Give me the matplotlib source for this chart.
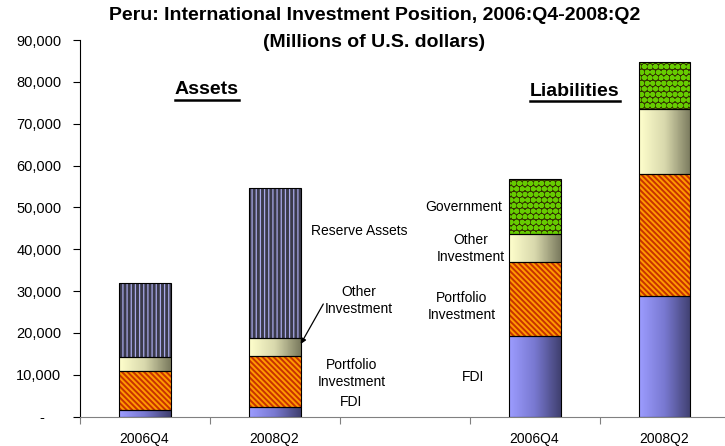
import matplotlib
matplotlib.use("Agg")
import matplotlib.pyplot as plt
import numpy as np
from matplotlib.colors import LinearSegmentedColormap
from matplotlib.ticker import FuncFormatter, FixedLocator
from matplotlib.lines import Line2D

plt.rcParams['font.family'] = ['Liberation Sans', 'DejaVu Sans']
plt.rcParams['font.size'] = 10

# data (millions of US$)
categories = ["2006Q4", "2008Q2"]
asset_pos = [0, 1]
liab_pos = [3, 4]

assets_fdi = [1500, 2400]
assets_portfolio = [9400, 12100]
assets_other = [3400, 4400]
assets_reserve = [17700, 35700]

liab_fdi = [19350, 28900]
liab_portfolio = [17700, 29000]
liab_other = [6550, 15540]
liab_gov = [13100, 11200]

W = 0.4

fig = plt.figure(figsize=(7.25, 4.46), dpi=100)
ax = fig.add_axes([79.5/725, 29.3/446, 645.5/725, 376.7/446])

fdi_cmap = LinearSegmentedColormap.from_list("fdi", ["#9C9CFF", "#7878D0", "#404070"])
oth_cmap = LinearSegmentedColormap.from_list("oth", ["#FFFFCC", "#D8D8AC", "#7A7A5E"])
grad = np.linspace(0, 1, 64).reshape(1, -1)


def gradient_bar(pos, vals, bottom, cmap):
    bars = ax.bar(pos, vals, W, bottom=bottom, fill=False, edgecolor="black", linewidth=0.8, zorder=3)
    for b in bars:
        x0, y0 = b.get_x(), b.get_y()
        ax.imshow(grad, cmap=cmap, extent=[x0, x0 + b.get_width(), y0, y0 + b.get_height()],
                  aspect="auto", zorder=2, interpolation="bilinear")
    return bars


def hatch_bar(pos, vals, bottom, face, hatch, hcolor, hlw):
    bars = ax.bar(pos, vals, W, bottom=bottom, color=face, edgecolor=hcolor, hatch=hatch,
                  linewidth=0, zorder=2)
    for b in bars:
        if hasattr(b, "set_hatch_linewidth"):
            b.set_hatch_linewidth(hlw)
    ax.bar(pos, vals, W, bottom=bottom, fill=False, edgecolor="black", linewidth=0.8, zorder=3)
    return bars


def stack(pos, layers):
    bottom = np.zeros(len(pos))
    for vals, kind in layers:
        vals = np.array(vals, dtype=float)
        if kind == "fdi":
            gradient_bar(pos, vals, bottom, fdi_cmap)
        elif kind == "other":
            gradient_bar(pos, vals, bottom, oth_cmap)
        elif kind == "portfolio":
            hatch_bar(pos, vals, bottom, "#FF9A00", "\\" * 6, "#C83200", 1.4)
        elif kind == "reserve":
            hatch_bar(pos, vals, bottom, "#3A3A4A", "||||", "#A8A8E8", 0.9)
        elif kind == "gov":
            hatch_bar(pos, vals, bottom, "#333300", "ooo", "#66CC00", 1.9)
        bottom = bottom + vals


stack(asset_pos, [(assets_fdi, "fdi"), (assets_portfolio, "portfolio"),
                  (assets_other, "other"), (assets_reserve, "reserve")])
stack(liab_pos, [(liab_fdi, "fdi"), (liab_portfolio, "portfolio"),
                 (liab_other, "other"), (liab_gov, "gov")])

ax.set_xlim(-0.5, -0.5 + 645.5/130)
ax.set_ylim(0, 90000)

# axes styling
ax.spines["top"].set_visible(False)
ax.spines["right"].set_visible(False)
ax.spines["bottom"].set_color("#808080")
ax.spines["left"].set_color("black")
ax.yaxis.set_major_locator(FixedLocator(np.arange(0, 90001, 10000)))
ax.yaxis.set_major_formatter(FuncFormatter(lambda v, p: f"{v:,.0f}" if v else "-    "))
ax.tick_params(axis="y", length=5, width=0.8, pad=8, labelsize=10.5)

ax.xaxis.set_major_locator(FixedLocator([-0.5, 0.5, 1.5, 2.5, 3.5]))
ax.xaxis.set_major_formatter(FuncFormatter(lambda v, p: ""))
ax.xaxis.set_minor_locator(FixedLocator(asset_pos + liab_pos))
ax.set_xticklabels(categories + categories, minor=True)
ax.tick_params(axis="x", which="major", length=5, width=0.8, color="#808080")
ax.tick_params(axis="x", which="minor", length=0, pad=11, labelsize=10)


def px(x, y):
    # pixel position in the picture -> data coordinates
    return (-0.5 + (x - 79.5) / 130, (416.7 - y) * 90000 / 376.7)


# titles
fig.text(375/725, 1 - 15.7/446, "Peru: International Investment Position, 2006:Q4-2008:Q2",
         ha="center", va="center", fontsize=14, fontweight="bold")
fig.text(374/725, 1 - 42.7/446, "(Millions of U.S. dollars)",
         ha="center", va="center", fontsize=14, fontweight="bold")

heads = [ax.text(*px(207, 90), "Assets", ha="center", va="center", fontsize=14, fontweight="bold"),
         ax.text(*px(575, 91.7), "Liabilities", ha="center", va="center", fontsize=14, fontweight="bold")]

# series labels
labels = [
    (359.5, 231, "Reserve Assets"),
    (358.8, 300.5, "Other\nInvestment"),
    (352, 373.5, "Portfolio\nInvestment"),
    (351.3, 401.7, "FDI"),
    (464, 206.7, "Government"),
    (470.5, 248.3, "Other\nInvestment"),
    (461.5, 306.6, "Portfolio\nInvestment"),
    (472.7, 376.7, "FDI"),
]
for x, y, s in labels:
    ax.text(*px(x, y), s, ha="center", va="center", fontsize=10, linespacing=1.3)

ax.annotate("", xy=px(300.7, 344), xytext=px(323.3, 304),
            arrowprops=dict(arrowstyle="-|>", color="black", lw=0.9, mutation_scale=8,
                            shrinkA=0, shrinkB=0))

# underline the section headers
fig.canvas.draw()
r = fig.canvas.get_renderer()
for t in heads:
    bb = t.get_window_extent(r)
    fig.add_artist(Line2D([bb.x0 / fig.bbox.width, bb.x1 / fig.bbox.width],
                          [(bb.y0 - 1) / fig.bbox.height] * 2, color="black", lw=1.8))

fig.savefig("out.png", dpi=100)
